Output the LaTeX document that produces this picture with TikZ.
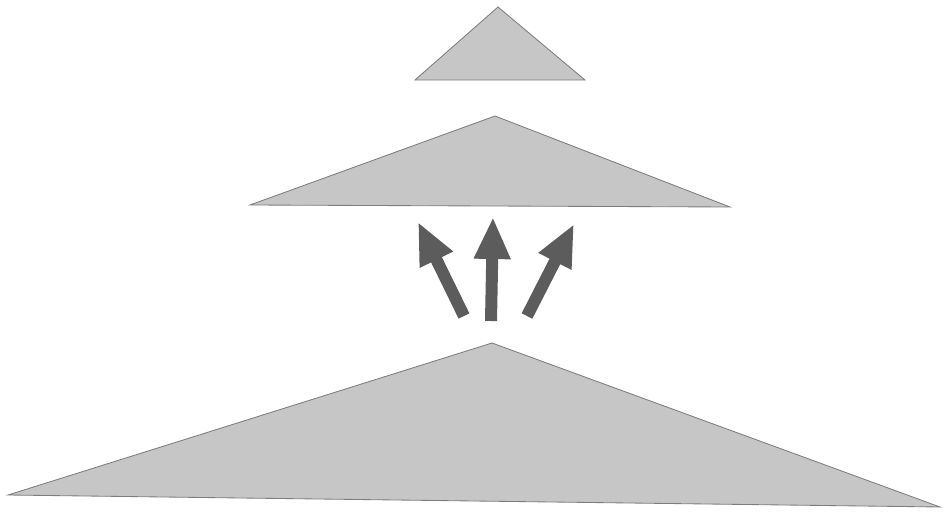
\documentclass[tikz,border=0pt]{standalone}
\usepackage{tikz}
\usetikzlibrary{arrows.meta}
\definecolor{levelfill}{RGB}{198,198,198}
\definecolor{leveledge}{RGB}{125,125,125}
\definecolor{arrowgray}{RGB}{92,92,92}
\tikzset{
  level/.style={fill=levelfill,draw=leveledge,line width=0.6pt,line join=miter},
  climb/.style={draw=arrowgray,line width=0.3cm,
    -{Triangle[length=1.05cm,width=0.85cm]}},
}

\begin{document}
\begin{tikzpicture}[x=0.025cm,y=-0.025cm]
      \useasboundingbox (0,0) rectangle (948,513);
      % three levels
      \draw[level] (498,7) -- (585,80) -- (415,80) -- cycle;
      \draw[level] (495,116) -- (730,207) -- (250,205) -- cycle;
      \draw[level] (492,343) -- (940,507) -- (8,495) -- cycle;
      % arrows from the bottom level up
      \coordinate (L0) at (464,316);
      \coordinate (L1) at (418,222);
      \coordinate (M0) at (491,321);
      \coordinate (M1) at (493,217);
      \coordinate (R0) at (527,316);
      \coordinate (R1) at (574,224);
      \draw[climb] (L0) -- (L1);
      \draw[climb] (M0) -- (M1);
      \draw[climb] (R0) -- (R1);
    \end{tikzpicture}
\end{document}
